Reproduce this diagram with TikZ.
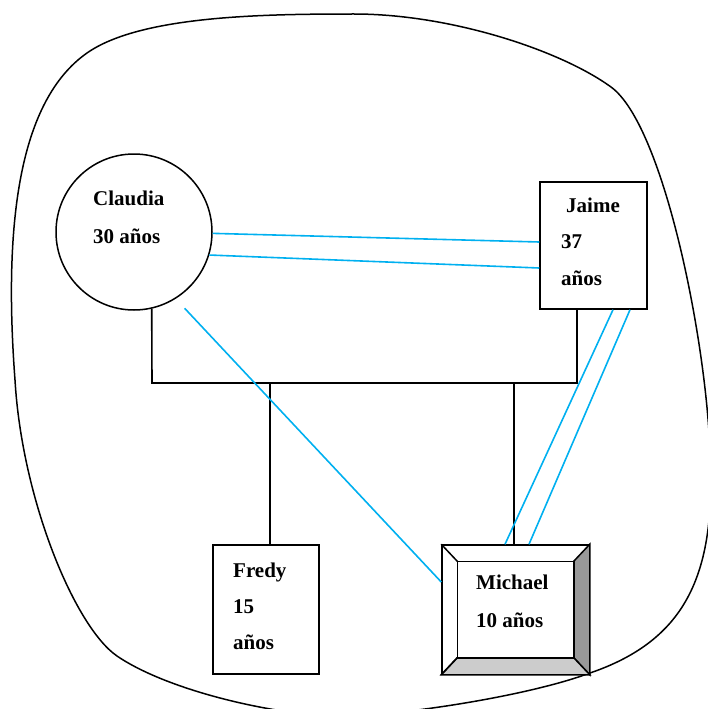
\documentclass[tikz,border=0pt]{standalone}
\usepackage{fontspec}
\setmainfont{Liberation Serif}
\definecolor{celeste}{HTML}{00B0F0}
\definecolor{grisos}{HTML}{999999}
\definecolor{grisci}{HTML}{CCCCCC}
\begin{document}
\begin{tikzpicture}[x=1pt,y=-1pt,
    persona/.style={draw,line width=1.5,inner sep=0},
    dato/.style={anchor=base west,inner sep=0,font=\fontsize{21}{25}\selectfont\bfseries},
    lazo/.style={line width=1.6},
    vinculo/.style={celeste,line width=1.6}]
    \useasboundingbox (0,0) rectangle (708,709);
    % contorno
    \draw[line width=1.5] (15,380) .. controls (3,220) and (20,100) .. (87,53)
        .. controls (140,16) and (260,14) .. (354,14)
        .. controls (450,14) and (560,50) .. (611,87)
        .. controls (662,124) and (705,330) .. (710,450)
        .. controls (716,570) and (690,640) .. (587,674)
        .. controls (527,696) and (400,716) .. (340,716)
        .. controls (280,716) and (170,692) .. (117,656)
        .. controls (75,627) and (22,500) .. cycle;
    % personas
    \node[persona,circle,minimum size=156] (claudia) at (134,232) {};
    \node[persona,minimum width=107,minimum height=127] (jaime) at (593.5,245.5) {};
    \node[persona,minimum width=106,minimum height=129] (fredy) at (266,609.5) {};
    \node[persona,minimum width=147,minimum height=129] (michael) at (515.5,609.5) {};
    \draw[line width=1.5,fill=grisos] (michael.north east) -- (michael.south east) -- ([shift={(-16,-17)}]michael.south east) -- ([shift={(-16,17)}]michael.north east) -- cycle;
    \draw[line width=1.5,fill=grisci] (michael.south west) -- (michael.south east) -- ([shift={(-16,-17)}]michael.south east) -- ([shift={(16,-17)}]michael.south west) -- cycle;
    \draw[line width=1.5] ([shift={(16,17)}]michael.north west) rectangle ([shift={(-16,-17)}]michael.south east);
    \draw[line width=1.5] (michael.north west) -- ([shift={(16,17)}]michael.north west)
        (michael.south west) -- ([shift={(16,-17)}]michael.south west);
    % textos
    \node[dato] (claudia1) at (93,205) {Claudia};
    \node[dato] (claudia2) at (93,243) {30 años};
    \node[dato] (jaime1) at (566,212) {Jaime};
    \node[dato] (jaime2) at (561,248) {37};
    \node[dato] (jaime3) at (561,285) {años};
    \node[dato] (fredy1) at (233,577) {Fredy};
    \node[dato] (fredy2) at (233,613) {15};
    \node[dato] (fredy3) at (233,649) {años};
    \node[dato] (michael1) at (476,589) {Michael};
    \node[dato] (michael2) at (476,627) {10 años};
    % lazos
    \coordinate (barra1) at (152,383);
    \coordinate (barra2) at (577,383);
    \draw[lazo] (claudia.-77) -- (barra1) -- (barra2) -- (barra2 |- jaime.south);
    \draw[lazo] ([shift={(4,0)}]fredy.north) -- ([shift={(4,0)}]fredy.north |- barra1);
    \draw[lazo] ([shift={(-1.5,0)}]michael.north) -- ([shift={(-1.5,0)}]michael.north |- barra1);
    % vinculos
    \draw[vinculo] (claudia.-1) -- ([shift={(0,-3.5)}]jaime.west);
    \draw[vinculo] (claudia.-17) -- ([shift={(0,22.5)}]jaime.west);
    \draw[vinculo,shorten <=13] (claudia.-58) -- ([shift={(0,-27.5)}]michael.west);
    \draw[vinculo] ([shift={(19.5,0)}]jaime.south) -- ([shift={(-10.5,0)}]michael.north);
    \draw[vinculo] ([shift={(36.5,0)}]jaime.south) -- ([shift={(13.5,0)}]michael.north);
\end{tikzpicture}
\end{document}
